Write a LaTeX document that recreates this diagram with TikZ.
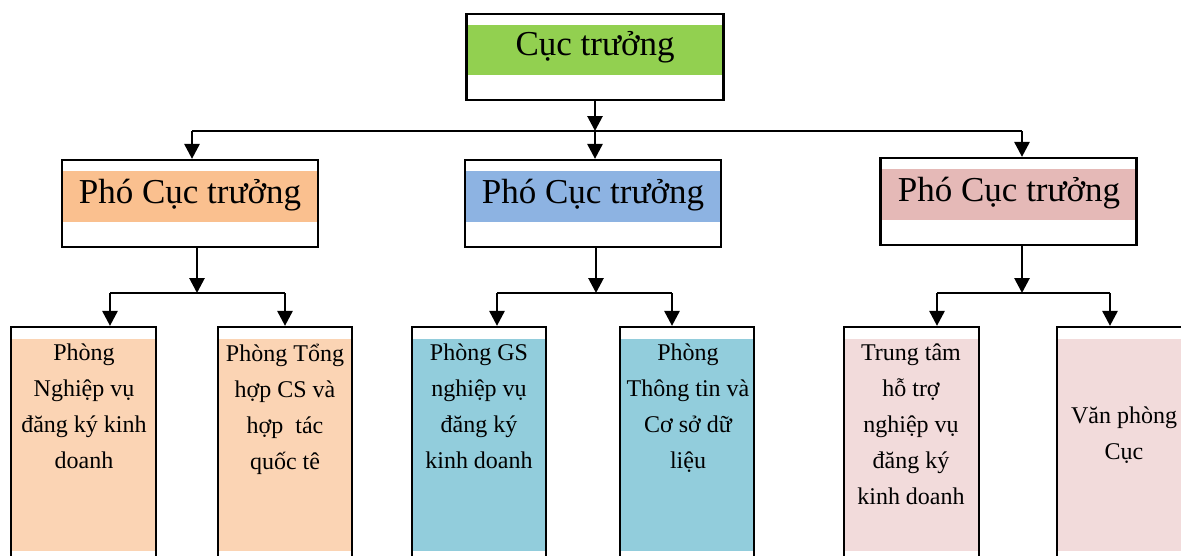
\documentclass[tikz,border=0pt]{standalone}
\usepackage{fontspec}
\setmainfont{Liberation Serif}
\usetikzlibrary{arrows.meta}
\definecolor{hgreen}{HTML}{92D050}
\definecolor{horange}{HTML}{FAC08F}
\definecolor{hblue}{HTML}{8DB3E2}
\definecolor{hrose}{HTML}{E5B9B7}
\definecolor{upeach}{HTML}{FBD4B4}
\definecolor{uaqua}{HTML}{92CDDC}
\definecolor{upink}{HTML}{F2DBDB}
\begin{document}
\begin{tikzpicture}[x=1pt,y=-1pt,
  box/.style={draw,line width=2.2pt,fill=white,inner sep=0pt},
  band/.style n args={3}{path picture={\fill[#1] ([yshift=-#2]path picture bounding box.north west) rectangle ([yshift=#3]path picture bounding box.south east);}},
  head/.style={box,minimum width=256pt,minimum height=87pt,band={#1}{11pt}{25pt}},
  unit/.style={box,minimum width=134pt,minimum height=236pt,band={#1}{12pt}{12pt}},
  htext/.style={font=\fontsize{35}{42}\selectfont,anchor=base,inner sep=0pt},
  utext/.style={font=\fontsize{24}{36}\selectfont,align=center,anchor=north,inner sep=0pt},
  bar/.style={line width=2.8pt},
  link/.style={bar,-{Triangle[length=15pt,width=15pt]}}]
\useasboundingbox (0,0) rectangle (1181,555);

\node[head=hgreen,minimum width=257pt,minimum height=86pt] (cuc) at (595,57) {};
\node[htext] (cuc-t) at (595,55) {Cục trưởng};

\node[head=horange] (pho1) at (190,203.5) {};
\node[htext] (pho1-t) at (190,203) {Phó Cục trưởng};
\node[head=hblue] (pho2) at (593,203.5) {};
\node[htext] (pho2-t) at (593,203) {Phó Cục trưởng};
\node[head=hrose] (pho3) at (1008.5,201.5) {};
\node[htext] (pho3-t) at (1009,201) {Phó Cục trưởng};

\node[unit=upeach,minimum width=145pt] (b1) at (83.5,445) {};
\node[utext] (b1-t) at (84,344) {Phòng\\Nghiệp vụ\\đăng ký kinh\\doanh};
\node[unit=upeach] (b2) at (285,445) {};
\node[utext] (b2-t) at (285,344) {Phòng Tổng\\hợp CS và\\hợp~ tác\\quốc tê};
\node[unit=uaqua] (b3) at (479,445) {};
\node[utext] (b3-t) at (479,344) {Phòng GS\\nghiệp vụ\\đăng ký\\kinh doanh};
\node[unit=uaqua] (b4) at (687,445) {};
\node[utext] (b4-t) at (688,344) {Phòng\\Thông tin và\\Cơ sở dữ\\liệu};
\node[unit=upink,minimum width=135pt] (b5) at (911.5,445) {};
\node[utext] (b5-t) at (911,344) {Trung tâm\\hỗ trợ\\nghiệp vụ\\đăng ký\\kinh doanh};
\node[unit=upink] (b6) at (1124,445) {};
\node[utext] (b6-t) at (1124,407) {Văn phòng\\Cục};

\coordinate (j0) at (595,131);
\coordinate (j1) at (192,131);
\coordinate (j3) at (1022,131);
\draw[link] (cuc.south -| j0) -- (j0);
\draw[bar] (j1) -- (j3);
\draw[link] (j1) -- (j1 |- pho1.north);
\draw[link] (j0) -- (j0 |- pho2.north);
\draw[link] (j3) -- (j3 |- pho3.north);

\coordinate (k1) at (197,293);
\coordinate (a1) at (110,293);
\coordinate (a2) at (285,293);
\draw[link] (pho1.south -| k1) -- (k1);
\draw[bar] (a1) -- (a2);
\draw[link] (a1) -- (a1 |- b1.north);
\draw[link] (a2) -- (a2 |- b2.north);

\coordinate (k2) at (596,293);
\coordinate (a3) at (497,293);
\coordinate (a4) at (672,293);
\draw[link] (pho2.south -| k2) -- (k2);
\draw[bar] (a3) -- (a4);
\draw[link] (a3) -- (a3 |- b3.north);
\draw[link] (a4) -- (a4 |- b4.north);

\coordinate (k3) at (1022,293);
\coordinate (a5) at (937,293);
\coordinate (a6) at (1110,293);
\draw[link] (pho3.south -| k3) -- (k3);
\draw[bar] (a5) -- (a6);
\draw[link] (a5) -- (a5 |- b5.north);
\draw[link] (a6) -- (a6 |- b6.north);
\end{tikzpicture}
\end{document}
